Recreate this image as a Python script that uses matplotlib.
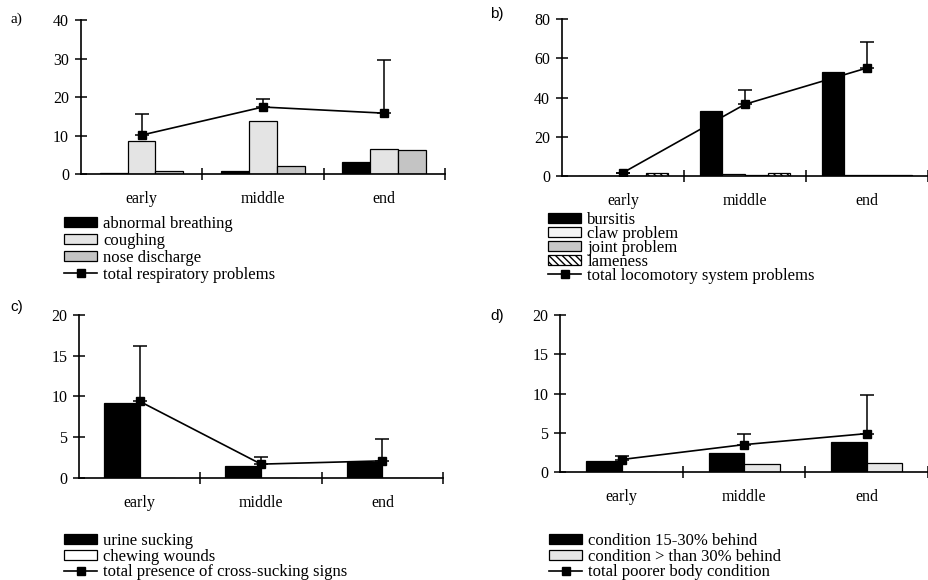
import numpy as np
import matplotlib.pyplot as plt
from matplotlib.lines import Line2D
from matplotlib.patches import Patch

plt.rcParams['font.family'] = ['Liberation Serif', 'DejaVu Serif']

periods = ['early', 'middle', 'end']

# a) respiratory
resp_labels = ['abnormal breathing', 'coughing', 'nose discharge']
abnormal_breathing = [0.2, 0.9, 3.0]
coughing = [8.7, 13.8, 6.6]
nose_discharge = [0.9, 2.2, 6.2]
resp_total = [10.1, 17.4, 15.8]
resp_sd = [5.4, 2.2, 13.7]

# b) locomotory
loco_labels = ['bursitis', 'claw problem', 'joint problem', 'lameness']
bursitis = [0.0, 33.1, 53.2]
claw_problem = [0.0, 1.0, 0.3]
joint_problem = [0.0, 0.5, 0.3]
lameness = [1.5, 1.6, 0.3]
loco_total = [1.7, 36.6, 55.1]
loco_sd = [0.0, 7.0, 13.3]

# c) cross-sucking
cross_labels = ['urine sucking', 'chewing wounds']
urine_sucking = [9.2, 1.5, 1.9]
chewing_wounds = [0.0, 0.0, 0.0]
cross_total = [9.4, 1.7, 2.1]
cross_sd = [6.8, 0.9, 2.7]

# d) body condition
body_labels = ['condition 15-30% behind', 'condition > than 30% behind']
cond_15_30 = [1.4, 2.4, 3.8]
cond_30 = [0.0, 1.05, 1.2]
body_total = [1.6, 3.5, 4.9]
body_sd = [0.5, 1.3, 4.9]

fig = plt.figure(figsize=(9.29, 5.8), dpi=100)


def panel(rect, series, labels, styles, total, sd, total_label, ymax, ystep,
          width, tag, tagpos, legpos, spacing, tagfont='Liberation Sans'):
    ax = fig.add_axes(rect)
    x = np.arange(len(periods))
    n = len(series)
    for i, (vals, st) in enumerate(zip(series, styles)):
        ax.bar(x + (i - (n - 1) / 2) * width, vals, width, edgecolor='black',
               linewidth=0.9, zorder=3, **st)
    ax.plot(x, total, color='black', lw=1.2, zorder=2)
    ax.errorbar(x, total, yerr=[np.zeros(3), sd], fmt='none', ecolor='black',
                elinewidth=1.1, capsize=5, capthick=1.1, zorder=4)
    ax.plot(x, total, ls='none', marker='s', ms=5.5, color='black', zorder=5)

    ax.set_xlim(-0.5, 2.5)
    ax.set_ylim(0, ymax)
    ax.set_yticks(np.arange(0, ymax + 1, ystep))
    ax.set_xticks([0.5, 1.5, 2.5])
    ax.set_xticklabels([])
    ax.set_xticks(x, minor=True)
    ax.set_xticklabels(periods, minor=True, fontsize=11.5)
    ax.tick_params(axis='x', which='minor', length=0, pad=12)
    ax.tick_params(axis='x', which='major', direction='inout', length=9, width=1.1)
    ax.tick_params(axis='y', direction='inout', length=9, width=1.1, labelsize=11.5, pad=4)
    for s in ['top', 'right']:
        ax.spines[s].set_visible(False)
    for s in ['left', 'bottom']:
        ax.spines[s].set_linewidth(1.2)
    ax.spines['bottom'].set_zorder(6)

    handles = [Patch(edgecolor='black', linewidth=0.9, **st) for st in styles]
    handles.append(Line2D([], [], color='black', lw=1.2, marker='s', ms=5.5))
    fig.legend(handles, labels + [total_label], loc='upper left',
               bbox_to_anchor=legpos, frameon=False, fontsize=12,
               borderpad=0, borderaxespad=0, handlelength=2.0,
               handleheight=0.55, handletextpad=0.35, labelspacing=spacing)
    fig.text(tagpos[0], tagpos[1], tag, fontsize=11, family=tagfont, va='top')
    return ax


panel([0.087, 0.70, 0.392, 0.2655],
      [abnormal_breathing, coughing, nose_discharge], resp_labels,
      [dict(facecolor='black'), dict(facecolor='#e4e4e4'), dict(facecolor='#c4c4c4')],
      resp_total, resp_sd, 'total respiratory problems', 40, 10, 0.23,
      'a)', (0.011, 0.978), (0.069, 0.627), 0.05, tagfont='Liberation Serif')

panel([0.605, 0.6966, 0.394, 0.2704],
      [bursitis, claw_problem, joint_problem, lameness], loco_labels,
      [dict(facecolor='black'), dict(facecolor='#f4f4f4'),
       dict(facecolor='#c8c8c8'), dict(facecolor='white', hatch='\\\\\\\\\\')],
      loco_total, loco_sd, 'total locomotory system problems', 80, 20, 0.185,
      'b)', (0.527, 0.988), (0.59, 0.635), -0.12)

panel([0.085, 0.1759, 0.392, 0.2811],
      [urine_sucking, chewing_wounds], cross_labels,
      [dict(facecolor='black'), dict(facecolor='white')],
      cross_total, cross_sd, 'total presence of cross-sucking signs', 20, 5, 0.295,
      'c)', (0.011, 0.483), (0.069, 0.081), -0.02)

panel([0.603, 0.186, 0.396, 0.271],
      [cond_15_30, cond_30], body_labels,
      [dict(facecolor='black'), dict(facecolor='#e6e6e6')],
      body_total, body_sd, 'total poorer body condition', 20, 5, 0.29,
      'd)', (0.528, 0.468), (0.591, 0.081), -0.02)

fig.savefig('out.png', dpi=100)
